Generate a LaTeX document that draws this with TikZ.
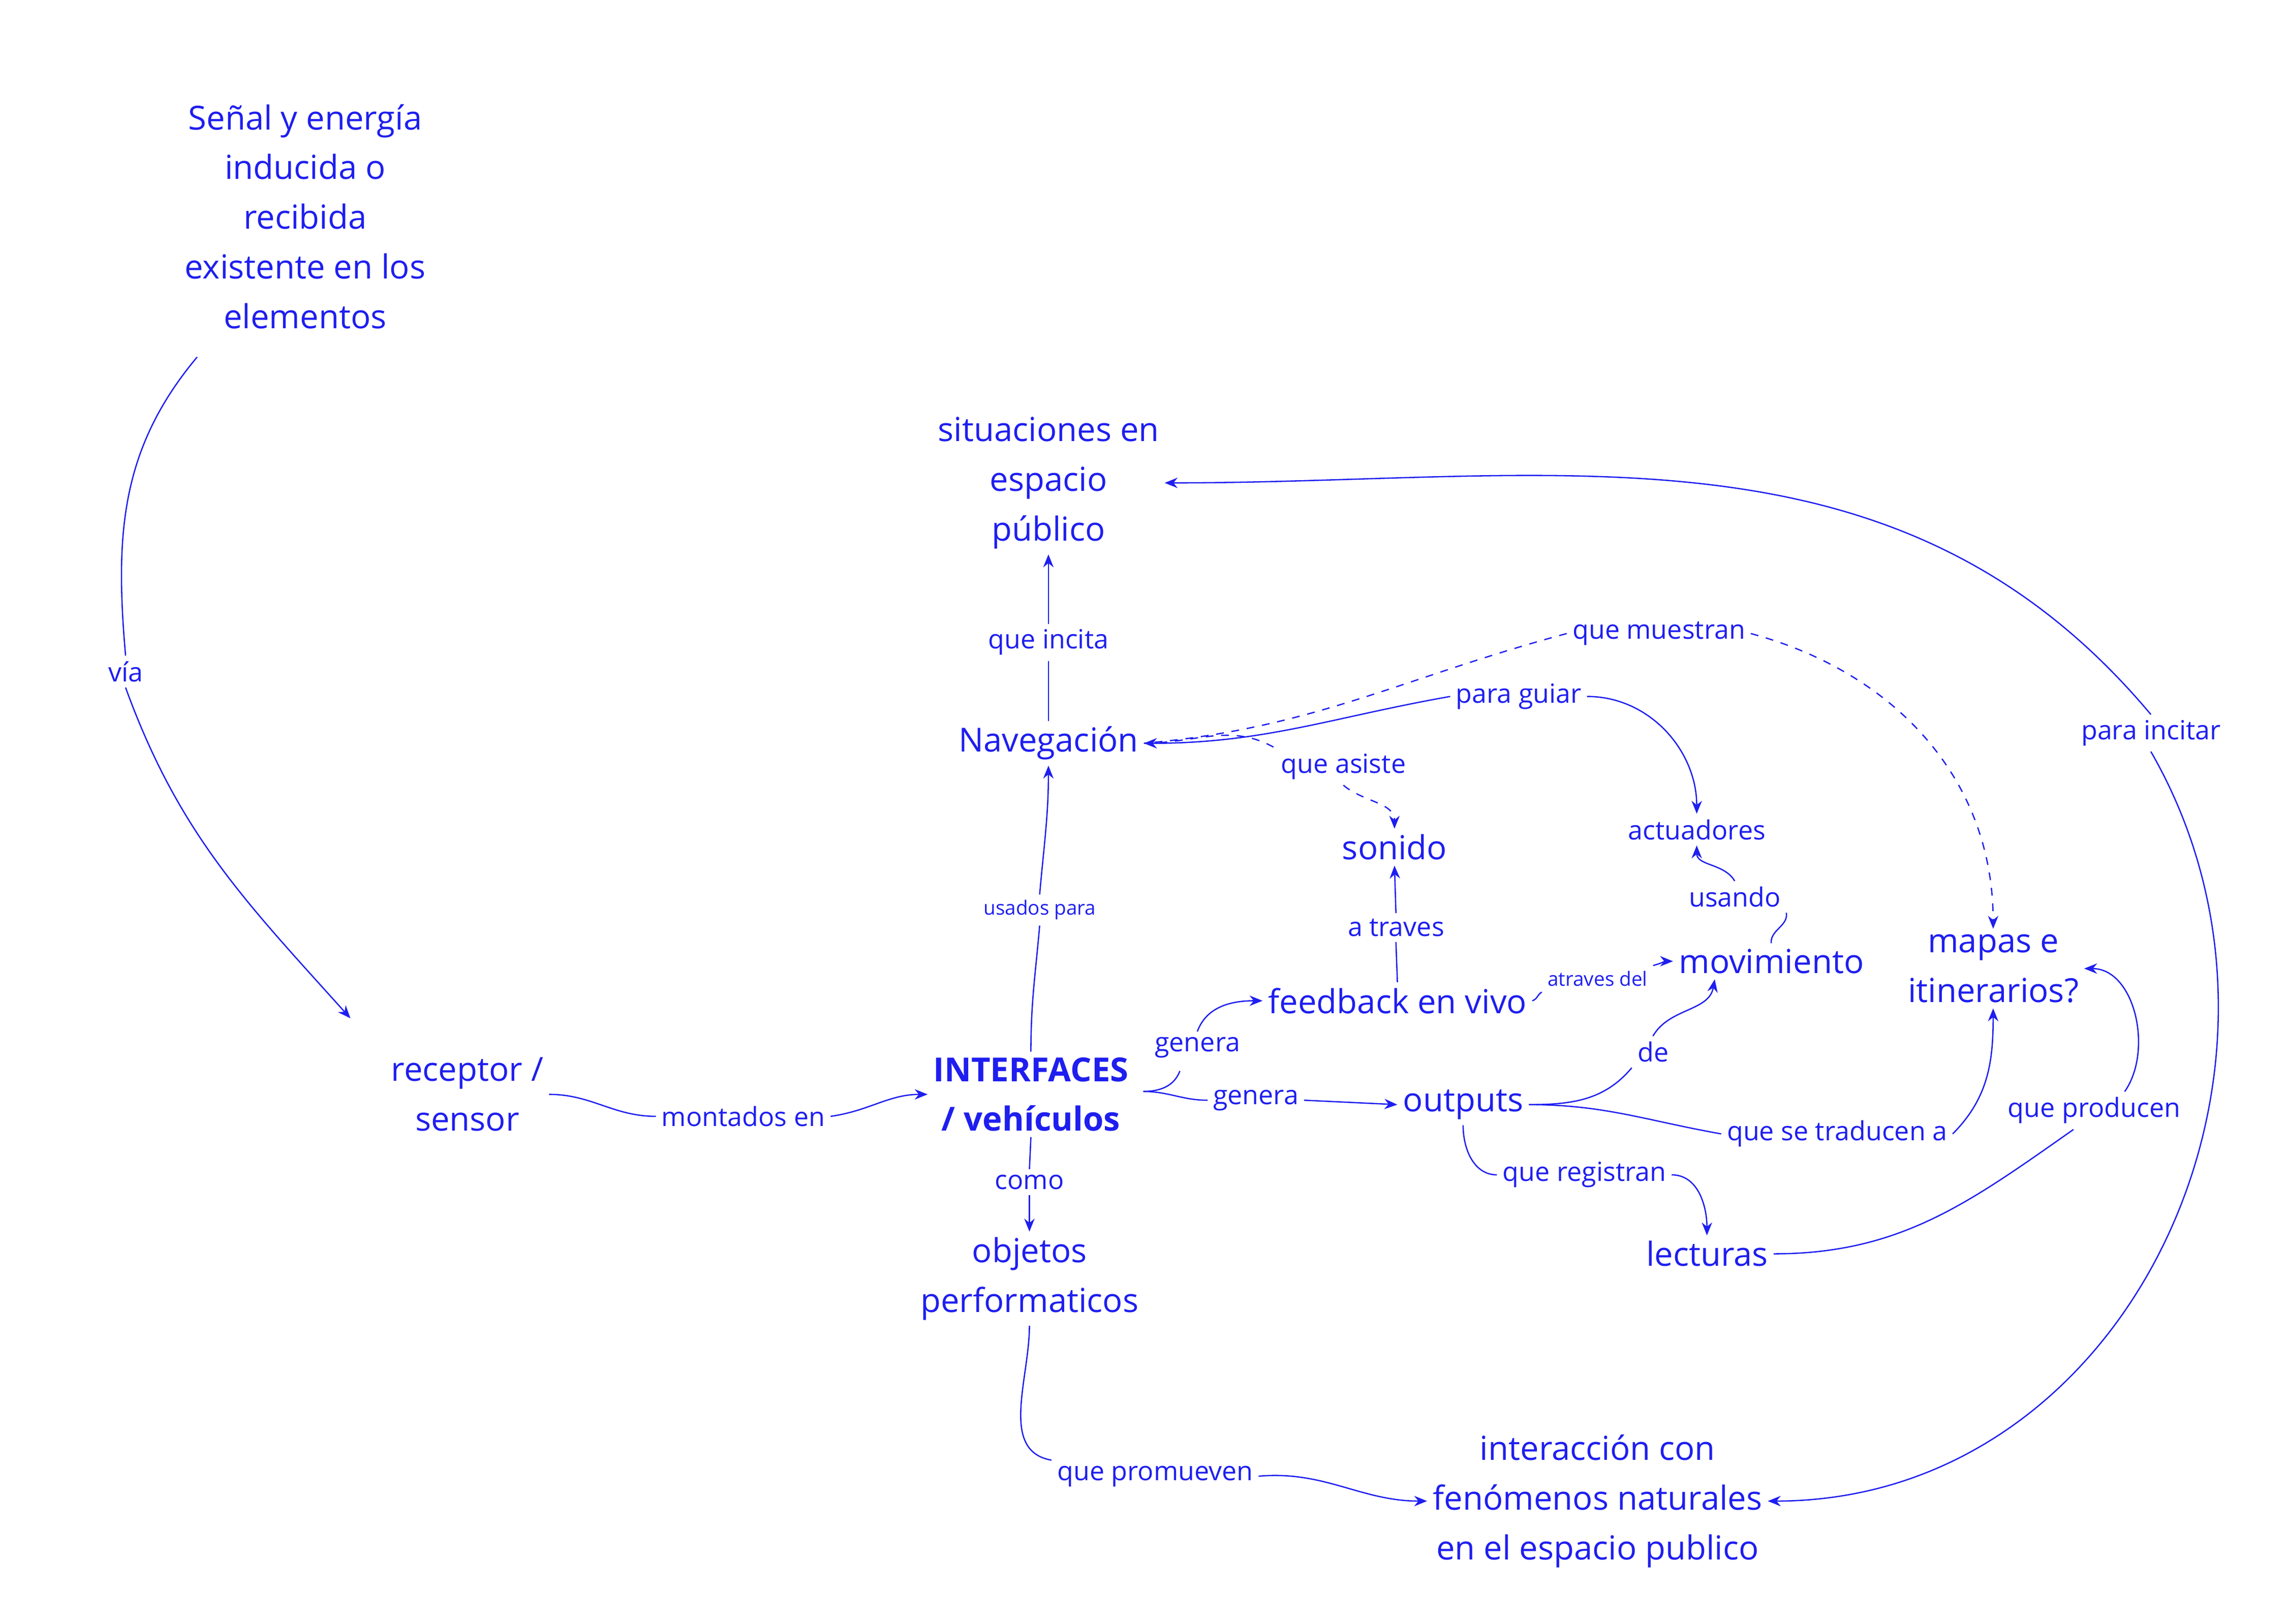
\documentclass[tikz,border=0pt]{standalone}
\usepackage{fontspec}
\setmainfont{Open Sans}
\usetikzlibrary{arrows.meta}
\definecolor{ink}{HTML}{1E1EF0}
\tikzset{
  concept/.style={text=ink, align=center, font=\fontsize{12.8}{19.2}\selectfont, inner sep=2pt},
  link/.style={text=ink, font=\fontsize{10.2}{13}\selectfont, inner sep=2pt},
  tiny/.style={text=ink, font=\fontsize{7.6}{10}\selectfont, inner sep=2pt},
  wire/.style={draw=ink, line width=0.5pt},
  arr/.style={wire, -{Stealth[length=5pt,width=4pt]}},
}
\begin{document}
\begin{tikzpicture}[x=0.02cm,y=0.02cm]
\useasboundingbox (0,0) rectangle (1552,1102);
\begin{scope}[shift={(0,7.7)},xscale=0.991,yscale=0.993]
% concepts
\node[concept] (senal) at (209,954) {Señal y energía\\inducida o\\recibida\\existente en los\\elementos};
\node[concept] (receptor) at (320,354) {receptor /\\sensor};
\node[concept, font=\fontsize{12.8}{19.2}\selectfont\bfseries] (interfaces) at (706,354) {INTERFACES\\/ vehículos};
\node[concept] (situaciones) at (718,772) {situaciones en\\espacio\\público};
\node[concept] (navegacion) at (718,594) {Navegación};
\node[concept] (sonido) at (955,523) {sonido};
\node[link] (actuadores) at (1162,535) {actuadores};
\node[concept] (feedback) at (957,418) {feedback en vivo};
\node[concept] (movimiento) at (1213,445) {movimiento};
\node[concept] (mapas) at (1365,440) {mapas e\\itinerarios?};
\node[concept] (outputs) at (1002,347) {outputs};
\node[concept] (lecturas) at (1169,245) {lecturas};
\node[concept] (objetos) at (705,228) {objetos\\performaticos};
\node[concept] (interaccion) at (1094,76) {interacción con\\fenómenos naturales\\en el espacio publico};
% link labels
\node[link] (via) at (86,643) {vía};
\node[link] (montados) at (509,339) {montados en};
\node[tiny] (usados) at (712,480) {usados para};
\node[link] (incita) at (718,663) {que incita};
\node[link] (como) at (705,294) {como};
\node[link] (genera1) at (820,386) {genera};
\node[link] (genera2) at (860,350) {genera};
\node[link] (atraves) at (956,468) {a traves};
\node[tiny] (atravesdel) at (1094,433) {atraves del};
\node[link] (usando) at (1188,489) {usando};
\node[link] (de) at (1132,383) {de};
\node[link] (traducen) at (1258,327) {que se traducen a};
\node[link] (registran) at (1085,299) {que registran};
\node[link] (producen) at (1434,343) {que producen};
\node[link] (incitar) at (1473,601) {para incitar};
\node[link] (muestran) at (1136,669) {que muestran};
\node[link] (guiar) at (1040,626) {para guiar};
\node[link] (asiste) at (920,578) {que asiste};
\node[link] (promueven) at (791,93) {que promueven};
% free ends
\coordinate (senalout) at (135,858);
\coordinate (recin) at (240,406);
\coordinate (intout) at (783,356);
\coordinate (genin) at (808,370);
\coordinate (prodin) at (1420,330);
% connectors
\draw[wire] (senalout) to[out=-130,in=95] (via.north);
\draw[arr] (via.south) to[out=-70,in=132] (recin);
\draw[wire] (receptor.east) to[out=0,in=180] (montados.west);
\draw[arr] (montados.east) to[out=8,in=180] (interfaces.west);
\draw[wire] (interfaces.north) to[out=90,in=-95] (usados.south);
\draw[arr] (usados.north) to[out=85,in=-90] (navegacion.south);
\draw[wire] (navegacion.north) -- (incita.south);
\draw[arr] (incita.north) -- (situaciones.south);
\draw[wire] (interfaces.south) -- (como.north);
\draw[arr] (como.south) -- (objetos.north);
\draw[wire] (intout) to[out=0,in=-110] (genin);
\draw[arr] (genera1.north) to[out=70,in=180] (feedback.west);
\draw[wire] (intout) to[out=0,in=180] (genera2.west);
\draw[arr] (genera2.east) -- (outputs.west);
\draw[wire] (feedback.north) -- (atraves.south);
\draw[arr] (atraves.north) -- (sonido.south);
\draw[wire] (feedback.east) to[out=15,in=-150] (atravesdel.south west);
\draw[arr] (atravesdel.north east) to[out=15,in=180] (movimiento.west);
\draw[wire] (movimiento.north) to[out=95,in=-80] (usando.south east);
\draw[arr] (usando.north) to[out=120,in=-90] (actuadores.south);
\draw[wire] (outputs.east) to[out=0,in=-130] (de.south west);
\draw[arr] (de.north) to[out=60,in=-100] ([xshift=-22pt]movimiento.south);
\draw[wire] (outputs.east) to[out=0,in=170] (traducen.west);
\draw[arr] (traducen.east) to[out=45,in=-90] (mapas.south);
\draw[wire] (outputs.south) to[out=-90,in=180] (registran.west);
\draw[arr] (registran.east) to[out=0,in=90] (lecturas.north);
\draw[wire] (lecturas.east) to[out=0,in=-145] (prodin);
\draw[arr] ([xshift=12pt]producen.north) to[out=55,in=0] (mapas.east);
\draw[arr] (incitar.north) to[out=130,in=0] (situaciones.east);
\draw[arr] (incitar.south) to[out=-60,in=0,looseness=1.1] (interaccion.east);
\draw[wire] (objetos.south) to[out=-90,in=170] (promueven.north west);
\draw[arr] (promueven.east) to[out=5,in=180] (interaccion.west);
\draw[arr] (guiar.west) to[out=190,in=0] (navegacion.east);
\draw[arr] (guiar.east) to[out=0,in=90] (actuadores.north);
\draw[wire, dashed] (muestran.west) to[out=195,in=5] (navegacion.east);
\draw[arr, dashed] (muestran.east) to[out=-15,in=90] (mapas.north);
\draw[wire, dashed] (navegacion.east) to[out=0,in=150] (asiste.north west);
\draw[arr, dashed] (asiste.south) to[out=-40,in=90] (sonido.north);
\end{scope}
\end{tikzpicture}
\end{document}
